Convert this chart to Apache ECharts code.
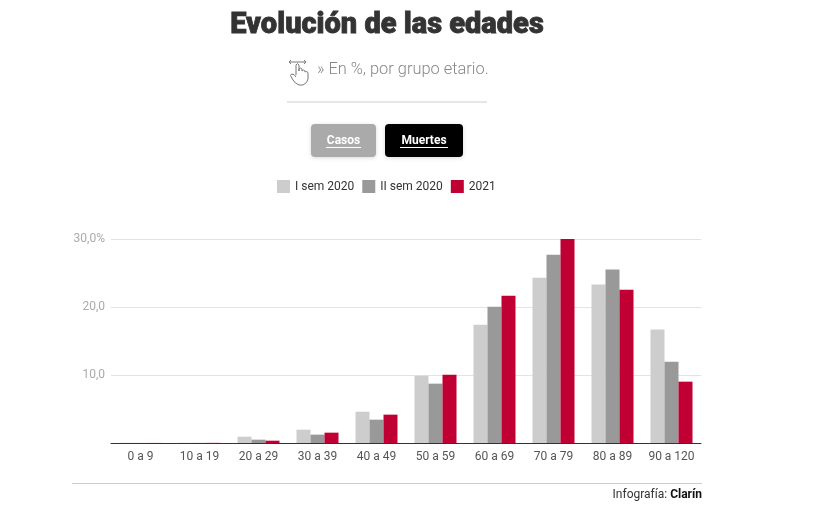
<!DOCTYPE html>
<html>
<head>
<meta charset="utf-8">
<script src="https://cdn.jsdelivr.net/npm/echarts@6/dist/echarts.min.js"></script>
<style>
html,body{margin:0;padding:0;background:#fff;}
#c{width:819px;height:517px;}
</style>
</head>
<body>
<div id="c"></div>
<script>
var categories = ['0 a 9','10 a 19','20 a 29','30 a 39','40 a 49','50 a 59','60 a 69','70 a 79','80 a 89','90 a 120'];
var semI2020  = [0.02, 0.03, 0.93, 1.96, 4.6, 9.9, 17.4, 24.3, 23.3, 16.7];
var semII2020 = [0.01, 0.02, 0.49, 1.23, 3.43, 8.73, 20.05, 27.7, 25.5, 11.96];
var y2021     = [0.01, 0.02, 0.34, 1.52, 4.17, 10.05, 21.67, 30.05, 22.55, 9.02];
var seriesNames = ['I sem 2020', 'II sem 2020', '2021'];
var yTickLabels = {0: '', 10: '10,0', 20: '20,0', 30: '30,0%'};

var colors = ['#cdcdcd', '#999999', '#c00032'];
var chart = echarts.init(document.getElementById('c'));
var font = 'Roboto, "Noto Sans", sans-serif';

chart.setOption({
  animation: false,
  color: colors,
  textStyle: {fontFamily: font},
  grid: {left: 111, right: 118, top: 239, bottom: 74, containLabel: false},
  legend: {
    top: 180, left: 277, padding: 0,
    itemWidth: 13, itemHeight: 13, itemGap: 8,
    icon: 'rect',
    textStyle: {fontSize: 12, color: '#333', fontFamily: font},
    data: seriesNames
  },
  xAxis: {
    type: 'category',
    data: categories,
    axisLine: {lineStyle: {color: '#333', width: 1}},
    axisTick: {show: false},
    axisLabel: {color: '#555', fontSize: 12, margin: 8, fontFamily: font, interval: 0}
  },
  yAxis: {
    type: 'value',
    min: 0, max: 30, interval: 10,
    axisLine: {show: false},
    axisTick: {show: false},
    splitLine: {lineStyle: {color: '#e3e3e3', width: 1}},
    axisLabel: {
      color: '#aaa', fontSize: 12, margin: 6, fontFamily: font,
      formatter: function (v) { return yTickLabels[v] !== undefined ? yTickLabels[v] : ''; }
    }
  },
  series: [
    {name: seriesNames[0], type: 'bar', data: semI2020, barWidth: 14, barGap: '0%'},
    {name: seriesNames[1], type: 'bar', data: semII2020, barWidth: 14, barGap: '0%'},
    {name: seriesNames[2], type: 'bar', data: y2021, barWidth: 14, barGap: '0%'}
  ],
  graphic: [
    {type: 'text', x: 387, y: 11, style: {text: 'Evolución de las edades', font: '900 29px Roboto, Lato, sans-serif', fill: '#333', align: 'center', stroke: '#333', lineWidth: 0.8}},
    {type: 'text', x: 317, y: 62, style: {text: '» En %, por grupo etario.', font: '300 16.4px Roboto, sans-serif', fill: '#888'}},
    {type: 'group', x: 288, y: 58, children: [
      {type: 'polyline', shape: {points: [[1,4],[18,4]]}, style: {stroke: '#777', lineWidth: 1, fill: null}},
      {type: 'polyline', shape: {points: [[3,2],[1,4],[3,6]]}, style: {stroke: '#777', lineWidth: 1, fill: null}},
      {type: 'polyline', shape: {points: [[16,2],[18,4],[16,6]]}, style: {stroke: '#777', lineWidth: 1, fill: null}},
      {type: 'polyline', shape: {points: [[8,17],[8,7],[9.5,5.5],[11,7],[11,13],[11,11],[12.5,10],[14,11],[14,13],[15.5,12],[17,13],[17,14],[18.5,13.5],[20,14.5],[20,21],[18.5,24.5],[15,27],[11,27],[7.5,25],[5,22],[2.5,17.5],[3.5,16],[6,16.5],[8,19]]}, style: {stroke: '#777', lineWidth: 1, fill: null}}
    ]},
    {type: 'line', shape: {x1: 287, y1: 102, x2: 487, y2: 102}, style: {stroke: '#ccc', lineWidth: 1}},
    {type: 'rect', shape: {x: 311, y: 124, width: 65, height: 33, r: 4}, style: {fill: '#aaaaaa', shadowBlur: 4, shadowColor: 'rgba(0,0,0,0.15)', shadowOffsetY: 1}},
    {type: 'text', x: 343.5, y: 140.5, style: {text: 'Casos', font: 'bold 12px Roboto, sans-serif', fill: '#fff', align: 'center', verticalAlign: 'middle'}},
    {type: 'line', shape: {x1: 326, y1: 147.5, x2: 361, y2: 147.5}, style: {stroke: '#fff', lineWidth: 1}},
    {type: 'rect', shape: {x: 385, y: 124, width: 78, height: 33, r: 4}, style: {fill: '#000', shadowBlur: 4, shadowColor: 'rgba(0,0,0,0.15)', shadowOffsetY: 1}},
    {type: 'text', x: 424, y: 140.5, style: {text: 'Muertes', font: 'bold 12px Roboto, sans-serif', fill: '#fff', align: 'center', verticalAlign: 'middle'}},
    {type: 'line', shape: {x1: 400, y1: 147.5, x2: 448, y2: 147.5}, style: {stroke: '#fff', lineWidth: 1}},
    {type: 'line', shape: {x1: 72, y1: 483.5, x2: 702, y2: 483.5}, style: {stroke: '#ccc', lineWidth: 1}},
    {type: 'text', x: 702, y: 495, style: {text: '{a|Infografía: }{b|Clarín}', align: 'right', verticalAlign: 'middle', rich: {a: {fontSize: 12, fill: '#333', fontFamily: 'Roboto'}, b: {fontWeight: 'bold', fontSize: 12, fill: '#111', fontFamily: 'Roboto'}}}}
  ]
});
</script>
</body>
</html>
